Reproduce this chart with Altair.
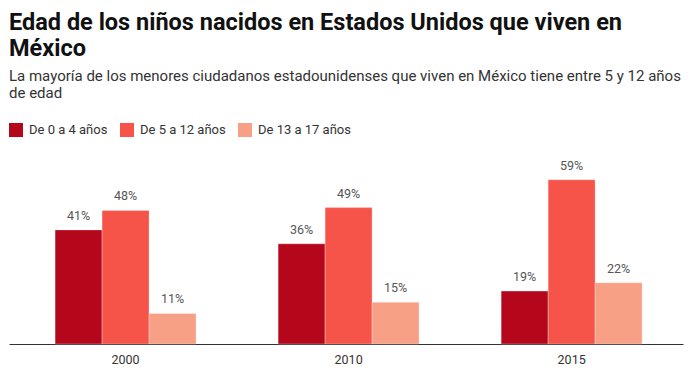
import altair as alt
import pandas as pd

years = ["2000", "2010", "2015"]
groups = ["De 0 a 4 años", "De 5 a 12 años", "De 13 a 17 años"]
v_0_4 = [41, 36, 19]
v_5_12 = [48, 49, 59]
v_13_17 = [11, 15, 22]
colors = ["#b5071c", "#f65448", "#f8a086"]

rows = []
for i, yr in enumerate(years):
    for g, vals in zip(groups, [v_0_4, v_5_12, v_13_17]):
        rows.append({"year": yr, "group": g, "value": vals[i], "label": f"{vals[i]}%"})
df = pd.DataFrame(rows)

base = alt.Chart(df).encode(
    x=alt.X(
        "year:N", sort=years, title=None,
        scale=alt.Scale(paddingInner=0.368, paddingOuter=0.195, align=0.53),
        axis=alt.Axis(labelAngle=0, ticks=False, domainColor="#333333", domainWidth=1,
                      labelColor="#333333", labelFontSize=12.5, labelPadding=9,
                      labelFont="Roboto", grid=False),
    ),
    xOffset=alt.XOffset("group:N", sort=groups, scale=alt.Scale(paddingInner=0, paddingOuter=0)),
    y=alt.Y("value:Q", scale=alt.Scale(domain=[0, 60]), axis=None),
)

bars = base.mark_bar(stroke="white", strokeWidth=0.5, strokeOpacity=0.6).encode(
    color=alt.Color(
        "group:N", sort=groups,
        scale=alt.Scale(domain=groups, range=colors),
        legend=alt.Legend(
            title=None, orient="top", direction="horizontal",
            symbolType="square", symbolSize=196, symbolStrokeWidth=0,
            symbolOpacity=1, labelFont="Roboto", labelFontSize=13, labelOffset=6,
            labelColor="#333333", columnPadding=12, offset=40,
        ),
    )
)

labels = base.mark_text(baseline="bottom", dy=-7, fontSize=12.5, color="#555555", font="Roboto").encode(
    text="label:N"
)

chart = alt.layer(bars, labels).properties(
    width=674,
    height=167,
    padding={"left": 1, "top": 2, "right": 9, "bottom": 5},
    title=alt.TitleParams(
        text=["Edad de los niños nacidos en Estados Unidos que viven en", "México"],
        subtitle=["La mayoría de los menores ciudadanos estadounidenses que viven en México tiene entre 5 y 12 años",
                  "de edad"],
        anchor="start", frame="group",
        font="Roboto", fontSize=23.5, fontWeight="bold", color="#111111", lineHeight=26,
        subtitleFont="Roboto", subtitleFontSize=15, subtitleColor="#333333",
        subtitleLineHeight=17, subtitlePadding=9, offset=22,
    ),
).configure_view(stroke=None)

chart.save("out.html", embed_options={"renderer": "svg", "actions": False})
